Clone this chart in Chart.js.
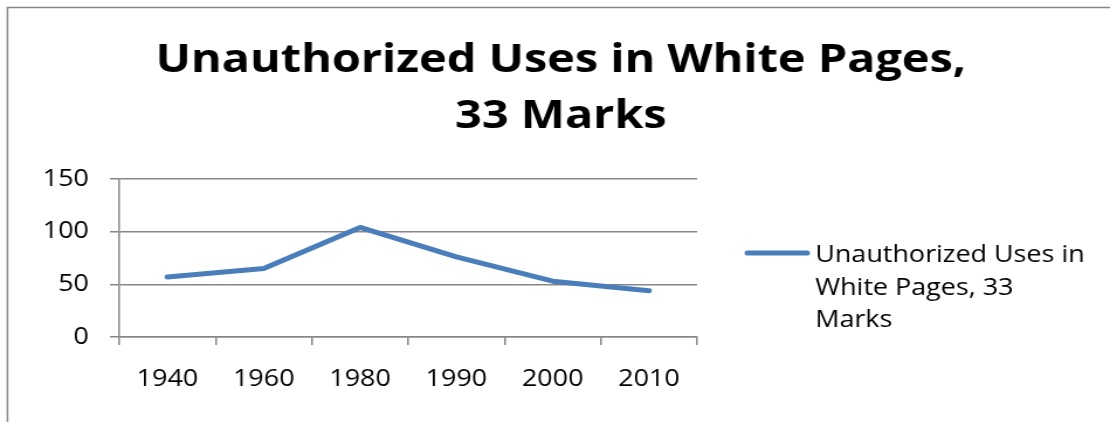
<!DOCTYPE html>
<html>
<head>
<meta charset="utf-8">
<script src="https://cdn.jsdelivr.net/npm/chart.js@4/dist/chart.umd.min.js"></script>
<style>
  html, body { margin: 0; padding: 0; background: #fff; overflow: hidden; }
  #wrap { position: relative; width: 949px; height: 422px; transform: scaleX(1.16965); transform-origin: 0 0; }
  canvas { display: block; }
</style>
</head>
<body>
<div id="wrap"><canvas id="c" width="949" height="422"></canvas></div>
<script>
const categories = ["1940", "1960", "1980", "1990", "2000", "2010"];
const seriesName = "Unauthorized Uses in White Pages, 33 Marks";
const seriesValues = [57, 65, 104, 76, 53, 44];
const yTicks = [0, 50, 100, 150];
const titleLines = ["Unauthorized Uses in White Pages,", "33 Marks"];
const legendLines = ["Unauthorized Uses in", "White Pages, 33", "Marks"];

const GRAY = "#878787";
const BLUE = "#4A7EBB";

const framePlugin = {
  id: "frame",
  beforeDraw(chart) {
    const ctx = chart.ctx;
    ctx.save();
    ctx.fillStyle = "#fff";
    ctx.fillRect(0, 0, chart.width, chart.height);
    ctx.strokeStyle = GRAY;
    ctx.lineWidth = 1.5;
    ctx.beginPath();
    ctx.moveTo(6.4, chart.height);
    ctx.lineTo(6.4, 7.5);
    ctx.lineTo(chart.width, 7.5);
    ctx.stroke();
    // title
    ctx.fillStyle = "#000";
    ctx.font = "bold 40px 'Open Sans'";
    ctx.textAlign = "center";
    ctx.textBaseline = "alphabetic";
    const baselines = [72, 128];
    titleLines.forEach((t, i) => ctx.fillText(t, 479.5, baselines[i]));
    ctx.restore();
  }
};

const legendPlugin = {
  id: "wrapLegend",
  afterDraw(chart) {
    const ctx = chart.ctx;
    const ds = chart.data.datasets[0];
    ctx.save();
    ctx.strokeStyle = ds.borderColor;
    ctx.lineWidth = 5;
    ctx.lineCap = "round";
    ctx.beginPath();
    ctx.moveTo(639, 253);
    ctx.lineTo(690, 253);
    ctx.stroke();
    ctx.fillStyle = "#000";
    ctx.font = "23px 'Open Sans'";
    ctx.textBaseline = "alphabetic";
    ctx.textAlign = "left";
    legendLines.forEach((t, i) => ctx.fillText(t, 697, 262 + i * 32.5));
    ctx.restore();
  }
};

new Chart(document.getElementById("c"), {
  type: "line",
  data: {
    labels: categories,
    datasets: [{
      label: seriesName,
      data: seriesValues,
      borderColor: BLUE,
      backgroundColor: BLUE,
      borderWidth: 5,
      pointRadius: 0,
      tension: 0,
      borderCapStyle: "round",
      borderJoinStyle: "round",
      fill: false
    }]
  },
  options: {
    responsive: false,
    animation: false,
    devicePixelRatio: 1,
    layout: { padding: { top: 179, right: 353, bottom: 0, left: 0 } },
    plugins: {
      legend: { display: false },
      tooltip: { enabled: false },
      title: { display: false }
    },
    scales: {
      x: {
        type: "category",
        offset: true,
        grid: {
          display: true,
          drawOnChartArea: false,
          drawTicks: true,
          tickLength: 8,
          offset: true,
          color: GRAY,
          lineWidth: 1.5
        },
        border: { display: true, color: GRAY, width: 1.5 },
        ticks: {
          color: "#000",
          font: { family: "'Open Sans'", size: 23 },
          padding: 21,
          maxRotation: 0,
          autoSkip: false
        },
        afterFit(scale) { scale.height = 85; }
      },
      y: {
        min: 0,
        max: 150,
        afterBuildTicks(scale) { scale.ticks = yTicks.map(v => ({ value: v })); },
        grid: {
          color: GRAY,
          lineWidth: 1.5,
          drawTicks: true,
          tickLength: 8
        },
        border: { display: true, color: GRAY, width: 1.5 },
        ticks: {
          color: "#000",
          font: { family: "'Open Sans'", size: 23 },
          padding: 18
        },
        afterFit(scale) { scale.width = 102; }
      }
    }
  },
  plugins: [framePlugin, legendPlugin]
});
</script>
</body>
</html>
